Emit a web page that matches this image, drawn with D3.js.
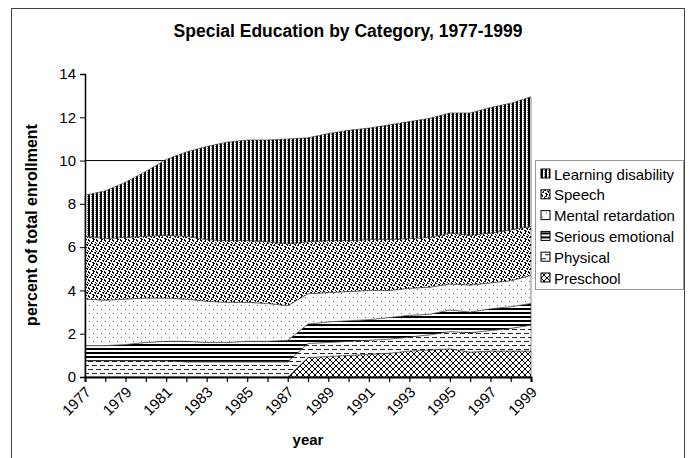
<!DOCTYPE html>
<html>
<head>
<meta charset="utf-8">
<script src="https://cdn.jsdelivr.net/npm/d3@7"></script>
<style>
  body { margin: 0; background: #fff; }
  text { font-family: "Liberation Sans", Arial, sans-serif; }
</style>
</head>
<body>
<svg id="chart"></svg>
<script>
// Data (percent of total enrollment)
const years = [1977, 1978, 1979, 1980, 1981, 1982, 1983, 1984, 1985, 1986, 1987, 1988,
               1989, 1990, 1991, 1992, 1993, 1994, 1995, 1996, 1997, 1998, 1999];
const preschool = [0, 0, 0, 0, 0, 0, 0, 0, 0, 0, 0, 0.9,
                   0.95, 1.0, 1.05, 1.1, 1.2, 1.25, 1.3, 1.15, 1.2, 1.2, 1.2];
const physical = [0.75, 0.75, 0.75, 0.75, 0.75, 0.7, 0.7, 0.7, 0.7, 0.7, 0.7, 0.65,
                  0.65, 0.65, 0.65, 0.65, 0.65, 0.7, 0.8, 0.9, 0.95, 1.05, 1.2];
const emotional = [0.7, 0.7, 0.75, 0.85, 0.9, 0.95, 0.9, 0.9, 0.95, 0.95, 1.0, 0.9,
                   0.95, 0.95, 0.95, 1.0, 1.0, 0.95, 1.0, 0.95, 1.0, 1.0, 1.0];
const mental = [2.15, 2.1, 2.1, 2.05, 2.0, 1.95, 1.9, 1.85, 1.8, 1.75, 1.6, 1.4,
                1.35, 1.35, 1.35, 1.25, 1.25, 1.25, 1.2, 1.25, 1.2, 1.2, 1.3];
const speech = [2.9, 2.85, 2.85, 2.85, 2.9, 2.9, 2.85, 2.85, 2.85, 2.85, 2.85, 2.4,
                2.4, 2.35, 2.35, 2.35, 2.3, 2.3, 2.35, 2.3, 2.3, 2.35, 2.25];
const learning = [1.9, 2.2, 2.55, 3.0, 3.5, 3.9, 4.3, 4.55, 4.65, 4.7, 4.85, 4.8,
                  4.95, 5.1, 5.15, 5.3, 5.4, 5.5, 5.55, 5.65, 5.8, 5.85, 6.0];
const yTicks = [0, 2, 4, 6, 8, 10, 12, 14];
const xLabels = [1977, 1979, 1981, 1983, 1985, 1987, 1989, 1991, 1993, 1995, 1997, 1999];

// series, bottom to top
const series = [
  { key: "Preschool", values: preschool, pat: "pPre" },
  { key: "Physical", values: physical, pat: "pPhys" },
  { key: "Serious emotional", values: emotional, pat: "pEmo" },
  { key: "Mental retardation", values: mental, pat: "pMR" },
  { key: "Speech", values: speech, pat: "pSpeech" },
  { key: "Learning disability", values: learning, pat: "pLD" }
];

const width = 691, height = 458;
const svg = d3.select("#chart").attr("width", width).attr("height", height);

// fill patterns (black & white, like the printed original)
const defs = svg.append("defs");

// vertical stripes
let p = defs.append("pattern").attr("id", "pLD").attr("patternUnits", "userSpaceOnUse")
  .attr("width", 4).attr("height", 2);
p.append("rect").attr("width", 4).attr("height", 2).attr("fill", "#fff");
p.append("rect").attr("x", 0).attr("width", 2).attr("height", 2).attr("fill", "#000");
p.append("rect").attr("x", 3).attr("y", 0).attr("width", 1).attr("height", 1).attr("fill", "#777");

// dense speckle (bitmap, 8x8)
const speckle = [
  "XX...X..",
  ".X..XX..",
  "...X...X",
  "X..XX...",
  "..X...XX",
  ".XX....X",
  "....XX..",
  "X....XX."
];
p = defs.append("pattern").attr("id", "pSpeech").attr("patternUnits", "userSpaceOnUse")
  .attr("width", 8).attr("height", 8);
p.append("rect").attr("width", 8).attr("height", 8).attr("fill", "#fff");
speckle.forEach((row, r) => row.split("").forEach((c, k) => {
  if (c === "X") p.append("rect").attr("x", k).attr("y", r).attr("width", 1).attr("height", 1).attr("fill", "#000");
}));

// sparse dots
p = defs.append("pattern").attr("id", "pMR").attr("patternUnits", "userSpaceOnUse")
  .attr("width", 8).attr("height", 8);
p.append("rect").attr("width", 8).attr("height", 8).attr("fill", "#fff");
p.append("rect").attr("x", 1).attr("y", 1).attr("width", 1).attr("height", 1).attr("fill", "#666");
p.append("rect").attr("x", 5).attr("y", 5).attr("width", 1).attr("height", 1).attr("fill", "#666");

// horizontal stripes
p = defs.append("pattern").attr("id", "pEmo").attr("patternUnits", "userSpaceOnUse")
  .attr("width", 4).attr("height", 4);
p.append("rect").attr("width", 4).attr("height", 4).attr("fill", "#fff");
p.append("rect").attr("y", 0).attr("width", 4).attr("height", 2).attr("fill", "#000");

// dashed horizontal
p = defs.append("pattern").attr("id", "pPhys").attr("patternUnits", "userSpaceOnUse")
  .attr("width", 8).attr("height", 8);
p.append("rect").attr("width", 8).attr("height", 8).attr("fill", "#fff");
p.append("rect").attr("x", 0).attr("y", 1).attr("width", 5).attr("height", 1).attr("fill", "#222");
p.append("rect").attr("x", 4).attr("y", 5).attr("width", 4).attr("height", 1).attr("fill", "#222");
p.append("rect").attr("x", 0).attr("y", 5).attr("width", 1).attr("height", 1).attr("fill", "#222");

// diagonal crosshatch
p = defs.append("pattern").attr("id", "pPre").attr("patternUnits", "userSpaceOnUse")
  .attr("width", 6).attr("height", 6);
p.append("rect").attr("width", 6).attr("height", 6).attr("fill", "#fff");
p.append("path").attr("d", "M-1,-1L7,7M-1,5L1,7M5,-1L7,1M7,-1L-1,7M1,-1L-1,1M7,5L5,7")
  .attr("stroke", "#000").attr("stroke-width", 1);

// scales
const x = d3.scaleLinear().domain([1977, 1999]).range([85, 531]);
const y = d3.scaleLinear().domain([0, 14]).range([377, 74]);

// outer frame
svg.append("rect").attr("x", 11.5).attr("y", 8.5).attr("width", 673).attr("height", 460)
  .attr("fill", "none").attr("stroke", "#444");

// title
svg.append("text").attr("x", 348).attr("y", 37).attr("text-anchor", "middle")
  .style("font-size", "17.5px").style("font-weight", "bold")
  .text("Special Education by Category, 1977-1999");

// single gridline at 10
svg.append("line").attr("x1", x(1977)).attr("x2", x(1999)).attr("y1", y(10)).attr("y2", y(10))
  .attr("stroke", "#000").attr("stroke-width", 1);

// stacked areas
const rows = years.map((yr, i) => {
  const r = { year: yr };
  series.forEach(s => { r[s.key] = s.values[i]; });
  return r;
});
const stack = d3.stack().keys(series.map(s => s.key));
const layers = stack(rows);
const area = d3.area()
  .x(d => x(d.data.year))
  .y0(d => y(d[0]))
  .y1(d => y(d[1]));

svg.append("g").selectAll("path")
  .data(layers)
  .join("path")
  .attr("d", area)
  .attr("fill", (d, i) => `url(#${series[i].pat})`)
  .attr("stroke", "#333")
  .attr("stroke-width", 0.6);

// y axis
const yAxis = svg.append("g").attr("transform", `translate(${x(1977)},0)`)
  .call(d3.axisLeft(y).tickValues(yTicks).tickSize(5).tickFormat(d3.format("d")));
yAxis.select(".domain").attr("stroke", "#000").attr("stroke-width", 1.5);
yAxis.selectAll("text").style("font-size", "15px").attr("fill", "#000").attr("x", -9);

// x axis
const xAxis = svg.append("g").attr("transform", `translate(0,${y(0)})`)
  .call(d3.axisBottom(x).tickValues(years).tickSize(5).tickFormat(""));
xAxis.select(".domain").attr("stroke", "#000").attr("stroke-width", 2);
xAxis.selectAll("line").attr("stroke-width", 1.2);

svg.append("g").selectAll("text")
  .data(xLabels)
  .join("text")
  .attr("transform", d => `translate(${x(d) + 7},${y(0) + 16}) rotate(-45)`)
  .attr("text-anchor", "end")
  .style("font-size", "15px")
  .text(d => d);

// axis titles
svg.append("text").attr("transform", `translate(37,225) rotate(-90)`)
  .attr("text-anchor", "middle").style("font-size", "16px").style("font-weight", "bold")
  .text("percent of total enrollment");
svg.append("text").attr("x", 308).attr("y", 445).attr("text-anchor", "middle")
  .style("font-size", "15px").style("font-weight", "bold").text("year");

// legend (top to bottom reversed order)
const legend = svg.append("g").attr("transform", "translate(535,160)");
legend.append("rect").attr("x", 0.5).attr("y", 0.5).attr("width", 148).attr("height", 129)
  .attr("fill", "#fff").attr("stroke", "#999");
const items = series.slice().reverse();
const li = legend.selectAll("g.item").data(items).join("g")
  .attr("transform", (d, i) => `translate(6,${14 + i * 20.8})`);
li.append("rect").attr("x", 0).attr("y", -5).attr("width", 9).attr("height", 9)
  .attr("fill", d => `url(#${d.pat})`).attr("stroke", "#000");
li.append("text").attr("x", 13).attr("y", 5.5).style("font-size", "15px").text(d => d.key);
</script>
</body>
</html>
